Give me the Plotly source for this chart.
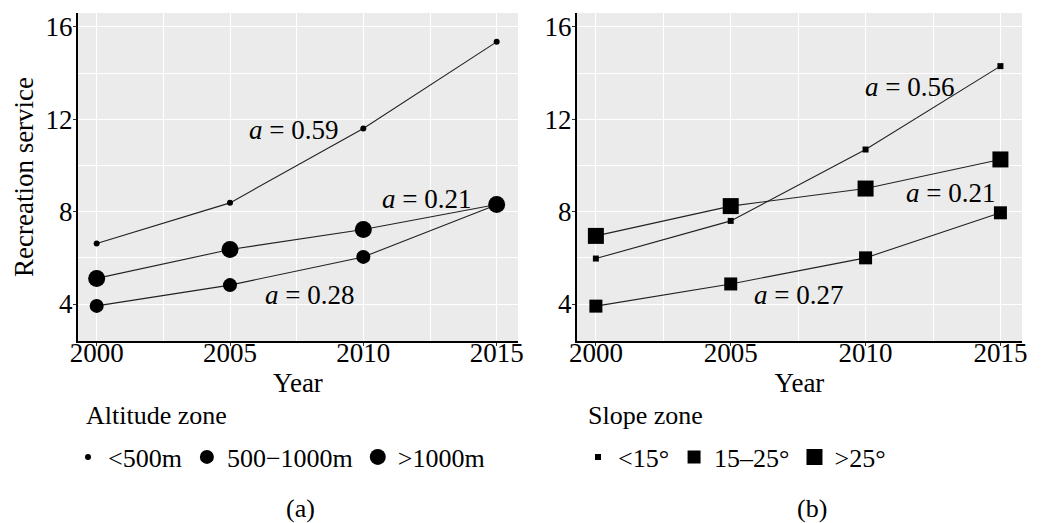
import plotly.graph_objects as go

years = [2000, 2005, 2010, 2015]

alt_names = ["<500m", "500\u22121000m", ">1000m"]
alt_low = [6.62, 8.38, 11.6, 15.35]
alt_mid = [3.92, 4.82, 6.04, 8.3]
alt_high = [5.11, 6.36, 7.23, 8.31]
alt_sizes = [6, 14, 17]

slope_names = ["<15\u00b0", "15\u201325\u00b0", ">25\u00b0"]
slope_low = [5.97, 7.60, 10.69, 14.30]
slope_mid = [3.91, 4.87, 6.0, 7.95]
slope_high = [6.95, 8.24, 9.0, 10.26]
slope_sizes = [6, 13, 16]

alt_labels = ["<i>a</i> = 0.59", "<i>a</i> = 0.28", "<i>a</i> = 0.21"]
alt_label_pos = [(2007.38, 11.53), (2007.98, 4.39), (2012.36, 8.54)]
slope_labels = ["<i>a</i> = 0.56", "<i>a</i> = 0.27", "<i>a</i> = 0.21"]
slope_label_pos = [(2011.63, 13.39), (2007.52, 4.39), (2013.15, 8.80)]

FONT = "Liberation Serif, Times New Roman, serif"
FS = 27
W, H = 1042, 523
OFF = 8  # page body margin


def px(x):
    return (x - OFF) / W


def py(y):
    return 1 - (y - OFF) / H


fig = go.Figure()

alt_series = [alt_low, alt_mid, alt_high]
slope_series = [slope_low, slope_mid, slope_high]

for vals in alt_series:
    fig.add_trace(go.Scatter(x=years, y=vals, mode="lines", line=dict(color="#222", width=1.1),
                             xaxis="x", yaxis="y", showlegend=False, hoverinfo="skip"))
for vals in slope_series:
    fig.add_trace(go.Scatter(x=years, y=vals, mode="lines", line=dict(color="#222", width=1.1),
                             xaxis="x2", yaxis="y2", showlegend=False, hoverinfo="skip"))
for name, vals, s in zip(alt_names, alt_series, alt_sizes):
    fig.add_trace(go.Scatter(x=years, y=vals, mode="markers", name=name,
                             marker=dict(color="black", size=s, symbol="circle", line=dict(width=0)),
                             xaxis="x", yaxis="y", legend="legend"))
for name, vals, s in zip(slope_names, slope_series, slope_sizes):
    fig.add_trace(go.Scatter(x=years, y=vals, mode="markers", name=name,
                             marker=dict(color="black", size=s, symbol="square", line=dict(width=0)),
                             xaxis="x2", yaxis="y2", legend="legend2"))

tf = dict(family=FONT, size=FS, color="black")
lf = dict(family=FONT, size=26, color="black")
ydom = [py(341), py(13)]
common_x = dict(range=[1999.3, 2015.8], tickvals=years, showgrid=True, gridcolor="white", gridwidth=1.2,
                minor=dict(dtick=2.5, tick0=2000, showgrid=True, gridcolor="white", gridwidth=0.5, ticks=""),
                showline=True, linecolor="black", linewidth=2, ticks="outside", ticklen=3, tickcolor="#333",
                tickfont=tf, zeroline=False, automargin=False, ticklabelstandoff=-16,
                title=dict(text="Year", font=tf, standoff=6))
common_y = dict(range=[2.4, 16.6], tickvals=[4, 8, 12, 16], showgrid=True, gridcolor="white", gridwidth=1.2,
                minor=dict(dtick=2, tick0=0, showgrid=True, gridcolor="white", gridwidth=0.5, ticks=""),
                showline=True, linecolor="black", linewidth=2, ticks="outside", ticklen=3, tickcolor="#333",
                tickfont=tf, zeroline=False, domain=ydom, automargin=False, ticklabelstandoff=-5)

fig.update_layout(
    width=W, height=H, margin=dict(l=0, r=0, t=0, b=0),
    paper_bgcolor="white", plot_bgcolor="#EBEBEB",
    font=tf,
    xaxis=dict(common_x, domain=[px(78), px(518)], anchor="y"),
    yaxis=dict(common_y, anchor="x", title=dict(text="Recreation service", font=tf, standoff=4)),
    xaxis2=dict(common_x, domain=[px(577), px(1022)], anchor="y2"),
    yaxis2=dict(common_y, anchor="x2"),
    legend=dict(orientation="h", x=px(68), y=py(457), xanchor="left", yanchor="middle",
                font=lf, bgcolor="rgba(0,0,0,0)", itemsizing="trace"),
    legend2=dict(orientation="h", x=px(578), y=py(457), xanchor="left", yanchor="middle",
                 font=lf, bgcolor="rgba(0,0,0,0)", itemsizing="trace"),
)

for t, (x, y) in zip(alt_labels, alt_label_pos):
    fig.add_annotation(x=x, y=y, xref="x", yref="y", text=t, showarrow=False, font=tf)
for t, (x, y) in zip(slope_labels, slope_label_pos):
    fig.add_annotation(x=x, y=y, xref="x2", yref="y2", text=t, showarrow=False, font=tf)

# legend titles
fig.add_annotation(x=px(84), y=py(415), xref="paper", yref="paper", text="Altitude zone", showarrow=False,
                   xanchor="left", yanchor="middle", font=lf)
fig.add_annotation(x=px(586), y=py(415), xref="paper", yref="paper", text="Slope zone", showarrow=False,
                   xanchor="left", yanchor="middle", font=lf)

fig.add_annotation(x=px(300), y=py(508), xref="paper", yref="paper", text="(a)", showarrow=False,
                   xanchor="center", yanchor="middle", font=lf)
fig.add_annotation(x=px(812), y=py(508), xref="paper", yref="paper", text="(b)", showarrow=False,
                   xanchor="center", yanchor="middle", font=lf)

fig.write_html("out.html")
